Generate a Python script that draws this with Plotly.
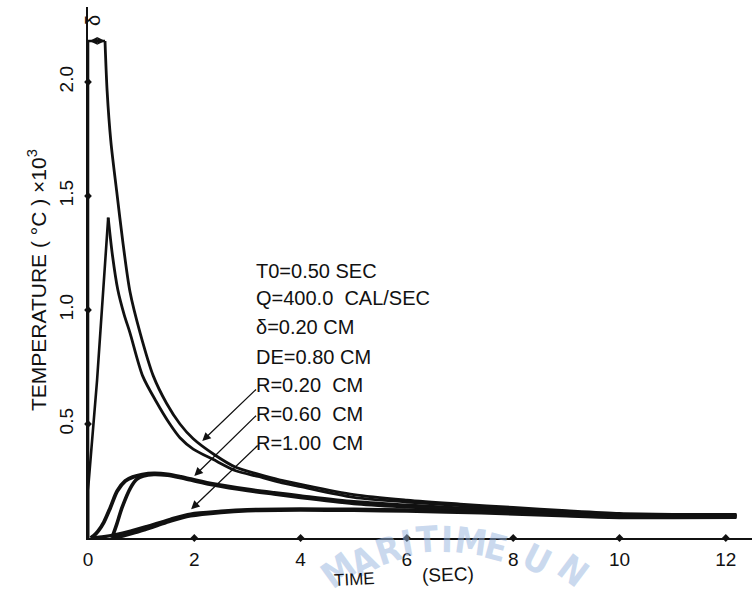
import plotly.graph_objects as go

# ---------------- data ----------------
x_ticks = [0, 2, 4, 6, 8, 10, 12]
x_tick_labels = ["0", "2", "4", "6", "8", "10", "12"]
y_ticks = [0.5, 1.0, 1.5, 2.0]
y_tick_labels = ["0.5", "1.0", "1.5", "2.0"]

# R = 0.20 CM  (upper pair): rising part, then decay
r020_a_rise_x = [0, 0, 0.32]
r020_a_rise_y = [0, 2.18, 2.18]
r020_a_x = [0.32, 0.36, 0.43, 0.54, 0.66, 0.79, 0.98, 1.23, 1.48, 1.73, 1.98, 2.38, 2.78, 3.2, 3.6, 4.0, 5.0, 6.0, 7.0, 8.0, 9.0, 10.0, 11.0, 12.2]
r020_a_y = [2.18, 1.96, 1.74, 1.52, 1.29, 1.08, 0.90, 0.71, 0.59, 0.50, 0.435, 0.365, 0.31, 0.28, 0.255, 0.235, 0.19, 0.166, 0.149, 0.134, 0.120, 0.108, 0.104, 0.103]
r020_b_rise_x = [0, 0.0, 0.17, 0.38]
r020_b_rise_y = [0, 0.21, 0.69, 1.405]
r020_b_x = [0.38, 0.46, 0.56, 0.68, 0.79, 1.03, 1.28, 1.54, 1.73, 1.98, 2.35, 2.78, 3.2, 3.6, 4.0, 5.0, 6.0, 7.0, 8.0, 9.0, 10.0, 11.0, 12.2]
r020_b_y = [1.405, 1.24, 1.09, 0.98, 0.90, 0.71, 0.60, 0.50, 0.44, 0.39, 0.345, 0.295, 0.27, 0.245, 0.225, 0.178, 0.158, 0.142, 0.128, 0.115, 0.104, 0.101, 0.101]

# R = 0.60 CM  (middle pair)
r060_a_x = [0.05, 0.11, 0.19, 0.30, 0.42, 0.55, 0.70, 0.84, 1.02, 1.24, 1.5, 1.75, 1.94, 2.37, 3.0, 3.5, 4.0, 5.0, 6.0, 7.0, 8.0, 9.0, 10.0, 11.0, 12.2]
r060_a_y = [0.0, 0.01, 0.03, 0.07, 0.133, 0.206, 0.25, 0.267, 0.278, 0.283, 0.279, 0.268, 0.258, 0.236, 0.213, 0.198, 0.184, 0.158, 0.143, 0.13, 0.12, 0.108, 0.099, 0.097, 0.097]
r060_b_x = [0.45, 0.54, 0.64, 0.80, 0.92, 1.04, 1.24, 1.5, 1.75, 1.94, 2.37, 3.0, 3.5, 4.0, 5.0, 6.0, 7.0, 8.0, 9.0, 10.0, 11.0, 12.2]
r060_b_y = [0.0, 0.06, 0.133, 0.22, 0.258, 0.272, 0.279, 0.275, 0.264, 0.254, 0.232, 0.208, 0.193, 0.178, 0.152, 0.137, 0.125, 0.115, 0.104, 0.096, 0.094, 0.094]

# R = 1.00 CM  (lower pair)
r100_a_x = [0.07, 0.3, 0.5, 0.8, 1.1, 1.27, 1.55, 1.93, 2.5, 3.0, 4.0, 5.0, 6.0, 7.4, 9.0, 10.0, 11.0, 12.2]
r100_a_y = [0.0, 0.006, 0.014, 0.03, 0.05, 0.062, 0.082, 0.105, 0.117, 0.124, 0.127, 0.126, 0.123, 0.115, 0.102, 0.095, 0.095, 0.096]
r100_b_x = [0.48, 0.7, 0.9, 1.1, 1.3, 1.55, 1.93, 2.5, 3.0, 4.0, 5.0, 6.0, 7.4, 9.0, 10.0, 11.0, 12.2]
r100_b_y = [0.0, 0.012, 0.025, 0.04, 0.055, 0.075, 0.098, 0.113, 0.12, 0.123, 0.122, 0.119, 0.111, 0.098, 0.091, 0.091, 0.092]

params = ["T0=0.50 SEC", "Q=400.0  CAL/SEC", "δ=0.20 CM", "DE=0.80 CM",
          "R=0.20  CM", "R=0.60  CM", "R=1.00  CM"]
# arrow (head, tail) for the R labels, in data units
arrow_heads = [(2.15, 0.425), (2.0, 0.272), (1.94, 0.126)]
arrow_tails = [(3.19, 0.658), (3.19, 0.543), (3.22, 0.412)]
delta_span = (0.0, 0.32, 2.18)

watermark = ["M", "A", "R", "I", "T", "I", "M", "E", "U", "N"]

# ---------------- layout geometry ----------------
W, H = 752, 595
L, R, T, B = 88, 0, 7, 57
PW, PH = W - L - R, H - T - B
X_MAX = PW / 53.15
Y_MAX = PH / 228.0


def px(xp):
    return (xp - L) / PW


def py(yp):
    return (H - B - yp) / PH


FONT = "Liberation Sans, Arial, sans-serif"
INK = "#111111"

fig = go.Figure()

curves = [
    (r020_a_rise_x, r020_a_rise_y, 2.6, "linear"),
    (r020_a_x, r020_a_y, 2.8, "spline"),
    (r020_b_rise_x, r020_b_rise_y, 2.6, "linear"),
    (r020_b_x, r020_b_y, 2.8, "spline"),
    (r060_a_x, r060_a_y, 3.8, "spline"),
    (r060_b_x, r060_b_y, 3.6, "spline"),
    (r100_a_x, r100_a_y, 3.4, "spline"),
    (r100_b_x, r100_b_y, 3.8, "spline"),
]
for xs, ys, w, shape in curves:
    fig.add_trace(go.Scatter(x=xs, y=ys, mode="lines",
                             line=dict(color=INK, width=w, shape=shape, smoothing=0.8),
                             hoverinfo="skip", showlegend=False))

# tick dots on the axes
fig.add_trace(go.Scatter(x=x_ticks[1:], y=[0] * (len(x_ticks) - 1), mode="markers",
                         marker=dict(symbol="diamond", size=6, color=INK),
                         cliponaxis=False, showlegend=False, hoverinfo="skip"))
fig.add_trace(go.Scatter(x=[0] * len(y_ticks), y=y_ticks, mode="markers",
                         marker=dict(symbol="diamond", size=6, color=INK),
                         cliponaxis=False, showlegend=False, hoverinfo="skip"))

ann = []
# faint watermark along an arc (drawn first, under other annotations)
wm_pos = [(338, 570, -36), (363, 561, -27), (388, 550, -18), (407, 543, -10),
          (427, 539, -4), (447, 539, 1), (471, 541, 8), (496, 547, 15),
          (537, 559, 27), (573, 570, 37)]
for ch, (xp, yp, ang) in zip(watermark, wm_pos):
    ann.append(dict(text="<b>" + ch + "</b>", xref="paper", yref="paper",
                    x=px(xp), y=py(yp), xanchor="center", yanchor="middle",
                    showarrow=False, textangle=ang,
                    font=dict(family="Liberation Sans Narrow, DejaVu Sans Condensed, Arial Narrow, sans-serif",
                              size=36, color="rgba(150,180,222,0.5)")))

# parameter block
line_y = [271, 298, 327, 357, 385, 414, 443]
for txt, yp in zip(params, line_y):
    ann.append(dict(text=txt, xref="paper", yref="paper", x=px(254), y=py(yp),
                    xanchor="left", yanchor="middle", showarrow=False,
                    font=dict(family=FONT, size=20, color=INK)))

# arrows from R labels to curves
for (hx, hy), (tx, ty) in zip(arrow_heads, arrow_tails):
    ann.append(dict(text="", x=hx, y=hy, ax=tx, ay=ty, xref="x", yref="y",
                    axref="x", ayref="y", showarrow=True, arrowhead=2,
                    arrowsize=1.3, arrowwidth=1.3, arrowcolor=INK))

# delta marker at the top
ann.append(dict(text="", x=delta_span[1], y=delta_span[2], ax=delta_span[0], ay=delta_span[2],
                xref="x", yref="y", axref="x", ayref="y", showarrow=True,
                arrowhead=2, arrowside="end+start", arrowsize=1.2, arrowwidth=1.3,
                arrowcolor=INK))
ann.append(dict(text="δ", xref="paper", yref="paper", x=px(93), y=py(21),
                xanchor="center", yanchor="middle",
                showarrow=False, textangle=-90,
                font=dict(family=FONT, size=20, color=INK)))

# axis titles
ann.append(dict(text="TEMPERATURE ( °C ) ×10<sup>3</sup>", xref="paper", yref="paper",
                x=px(37), y=py(280), xanchor="center", yanchor="middle",
                showarrow=False, textangle=-90,
                font=dict(family=FONT, size=21, color=INK)))
ann.append(dict(text="TIME", xref="paper", yref="paper",
                x=px(354), y=py(579), xanchor="center", yanchor="middle",
                showarrow=False, textangle=-3,
                font=dict(family=FONT, size=17, color=INK)))
ann.append(dict(text="(SEC)", xref="paper", yref="paper",
                x=px(448), y=py(574), xanchor="center", yanchor="middle",
                showarrow=False, textangle=-2,
                font=dict(family=FONT, size=19, color=INK)))

fig.update_layout(
    width=W, height=H, autosize=False,
    margin=dict(l=L, r=R, t=T, b=B, pad=0),
    paper_bgcolor="white", plot_bgcolor="white",
    annotations=ann,
    xaxis=dict(range=[0, X_MAX], showline=True, linecolor=INK, linewidth=1.6,
               showgrid=False, zeroline=False, ticks="", tickvals=x_ticks,
               ticktext=x_tick_labels, ticklabelstandoff=3,
               tickfont=dict(family=FONT, size=19, color=INK), fixedrange=True),
    yaxis=dict(range=[0, Y_MAX], showline=True, linecolor=INK, linewidth=1.6,
               showgrid=False, zeroline=False, ticks="", tickvals=y_ticks,
               ticktext=y_tick_labels, tickangle=-90, ticklabelstandoff=6,
               tickfont=dict(family=FONT, size=19, color=INK), fixedrange=True),
)

fig.write_html("out.html")
